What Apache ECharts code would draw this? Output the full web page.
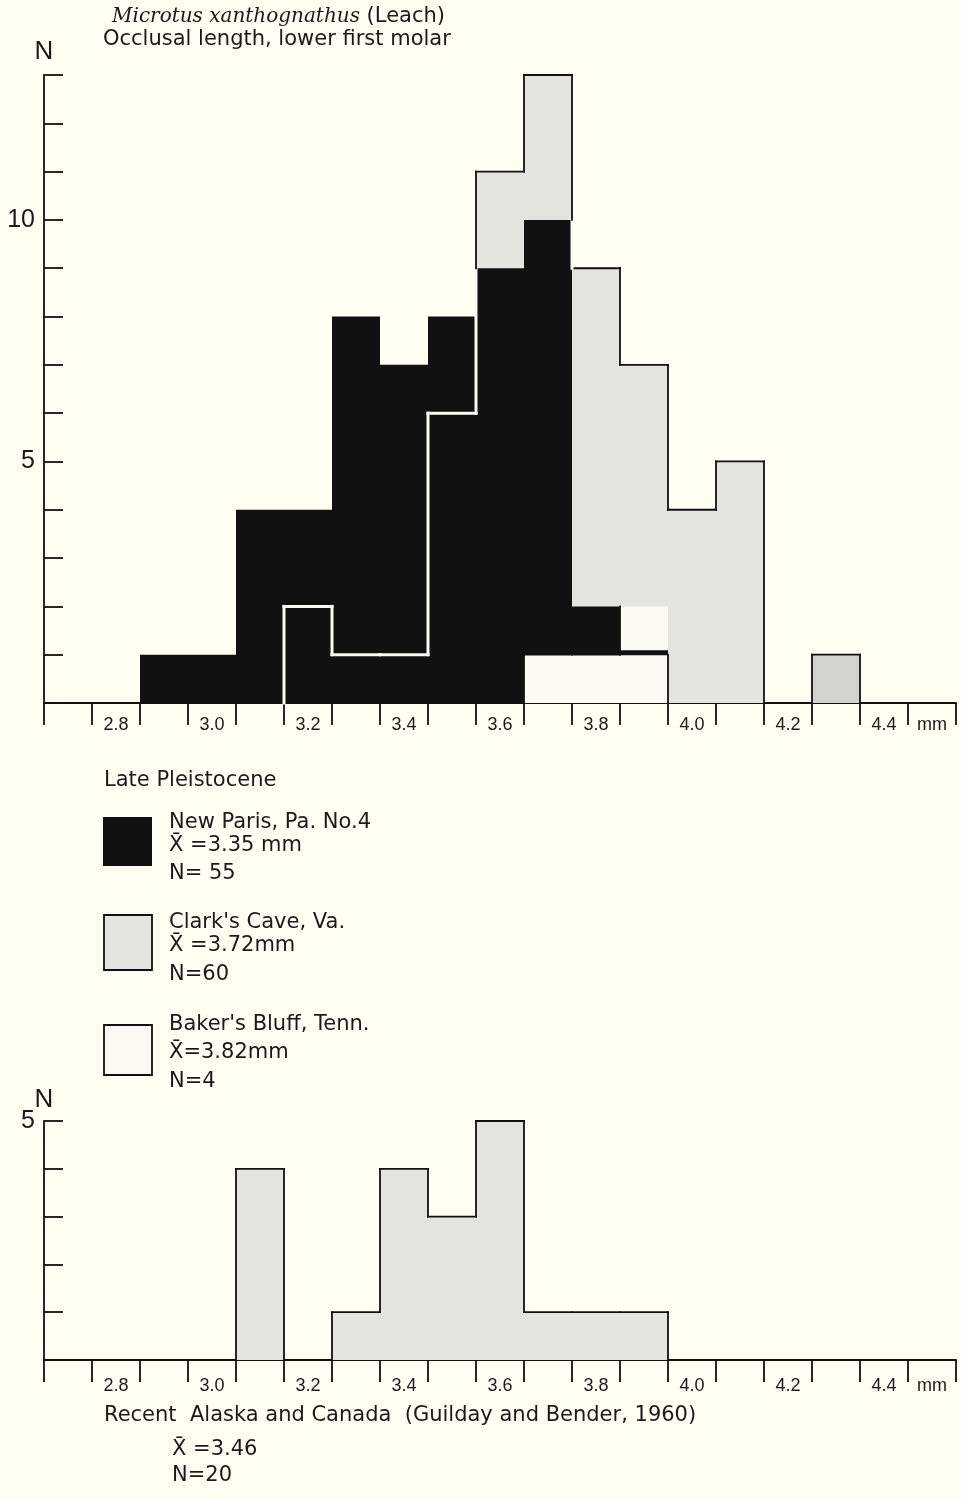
<!DOCTYPE html>
<html><head><meta charset="utf-8">
<script src="https://cdn.jsdelivr.net/npm/echarts@6/dist/echarts.min.js"></script>
<style>html,body{margin:0;padding:0;background:#fefef3;}#c{width:961px;height:1500px;}</style>
</head><body><div id="c"></div>
<script>
// bin centres (mm), 0.1 mm wide
const bins = ['2.7','2.8','2.9','3.0','3.1','3.2','3.3','3.4','3.5','3.6','3.7','3.8','3.9','4.0','4.1','4.2','4.3','4.4','4.5'];
const tickLabels = ['','2.8','','3.0','','3.2','','3.4','','3.6','','3.8','','4.0','','4.2','','4.4','mm'];
// Late Pleistocene samples (counts per bin)
const newParis    = [0,0,1,1,4,4,8,7,8,9,10,2,1,0,0,0,0,0,0]; // N=55
const clarksCave  = [0,0,0,0,0,2,1,1,6,11,13,9,7,4,5,0,1,0,0]; // N=60
const bakersBluff = [0,0,0,0,0,0,0,0,0,0,1,1,2,0,0,0,0,0,0];  // N=4
// Recent Alaska and Canada
const recentAlaska = [0,0,0,0,4,0,1,4,3,5,1,1,1,0,0,0,0,0,0]; // N=20
const topYLabels = [5, 10];
const bottomYLabels = [5];

const BG = '#fefef3', BLACK = '#111111', GREY = '#e4e4df', GREY_DARK = '#d3d3ce', WHITE = '#fbfbf4';
const FONT = '"DejaVu Sans", "Liberation Sans", sans-serif';
const FONT_NUM = '"Liberation Sans", Arial, sans-serif';
const TXT = '#1a1a1a';

function xAxisCfg(gridIndex, margin) {
  return {
    type: 'category', gridIndex, data: bins, boundaryGap: true,
    axisLine: {lineStyle: {color: BLACK, width: 1.8}},
    axisTick: {show: true, interval: 0, length: 22, lineStyle: {color: BLACK, width: 1.8}},
    axisLabel: {interval: 0, margin, fontFamily: FONT_NUM, fontSize: 18, color: TXT,
      formatter: (v, i) => tickLabels[i]},
    splitLine: {show: false}
  };
}
function yAxisCfg(gridIndex, max, labels) {
  return {
    type: 'value', gridIndex, min: 0, max, interval: 1,
    axisLine: {show: true, lineStyle: {color: BLACK, width: 1.8}},
    axisTick: {show: true, inside: true, length: 19, lineStyle: {color: BLACK, width: 1.8}},
    splitLine: {show: false},
    axisLabel: {margin: 9, fontFamily: FONT_NUM, fontSize: 25, color: TXT,
      formatter: v => labels.includes(v) ? String(v) : ''}
  };
}

// step outline of a histogram; parts below `cover` drawn in inColor, parts above `clip` omitted
function stepOutline(api, vals, o) {
  const n = vals.length;
  const half = api.size([1, 0])[0] / 2;
  const pt = (i, v, side) => { const c = api.coord([i, v]); return [c[0] + side * half, c[1]]; };
  const kids = [];
  const seg = (p1, p2, inside) => kids.push({
    type: 'line', shape: {x1: p1[0], y1: p1[1], x2: p2[0], y2: p2[1]},
    style: {stroke: inside ? o.inColor : o.outColor, lineWidth: inside ? o.inWidth : o.outWidth, lineCap: 'square'}
  });
  for (let i = 0; i <= n; i++) {
    const v = i < n ? vals[i] : 0;
    if (i < n && v > 0 && !(o.clip && v > o.clip[i])) {
      seg(pt(i, v, -1), pt(i, v, 1), o.cover && v < o.cover[i]);
    }
    const prev = i > 0 ? vals[i - 1] : 0;
    if (prev !== v) {
      let lo = Math.min(prev, v), hi = Math.max(prev, v);
      const at = (arr) => Math.max(i > 0 ? arr[i - 1] : 0, i < n ? arr[i] : 0);
      if (o.clip) hi = Math.min(hi, at(o.clip));
      if (hi <= lo) continue;
      const B = o.cover ? at(o.cover) : 0;
      const idx = Math.min(i, n - 1), side = i < n ? -1 : 1;
      if (B > lo) seg(pt(idx, lo, side), pt(idx, Math.min(hi, B), side), true);
      if (hi > B) seg(pt(idx, Math.max(lo, B), side), pt(idx, hi, side), false);
    }
  }
  return kids;
}
// top edge of bars that are hidden under a lighter bar
function hiddenTops(api, vals, over) {
  const half = api.size([1, 0])[0] / 2;
  const kids = [];
  vals.forEach((v, i) => {
    if (v > 0 && v < over[i]) {
      const c = api.coord([i, v]);
      kids.push({type: 'line', shape: {x1: c[0] - half, y1: c[1] - 2, x2: c[0] + half, y2: c[1] - 2},
        style: {stroke: BLACK, lineWidth: 5}});
    }
  });
  return kids;
}
function outlineSeries(xi, yi, build) {
  return {type: 'custom', xAxisIndex: xi, yAxisIndex: yi, data: [[0, 0]], z: 6, silent: true, clip: false,
    renderItem: (params, api) => ({type: 'group', children: build(api)})};
}
function barSeries(xi, yi, data, color, z) {
  return {type: 'bar', xAxisIndex: xi, yAxisIndex: yi, data, barWidth: '100%', barGap: '-100%',
    itemStyle: {color}, z, silent: true};
}

const txt = (x, y, text, size, extra) => Object.assign({
  type: 'text', x, y, silent: true,
  style: Object.assign({text, fontFamily: FONT, fontSize: size || 21, fill: TXT,
    textAlign: 'left', textVerticalAlign: 'middle', verticalAlign: 'middle'}, extra || {})
});

const graphics = [
  txt(112, 17, '{it|Microtus xanthognathus} (Leach)', 21, {rich: {it: {fontFamily: '"DejaVu Serif", serif', fontStyle: 'italic', fontSize: 20, fill: TXT}}}),
  txt(103, 40, 'Occlusal length, lower first molar', 21),
  txt(44, 52, 'N', 26, {fontFamily: FONT_NUM, textAlign: 'center', align: 'center'}),
  txt(104, 781, 'Late Pleistocene', 21),
  {type: 'rect', shape: {x: 103, y: 817, width: 49, height: 49}, style: {fill: BLACK}, silent: true},
  txt(169, 823, 'New Paris, Pa. No.4', 21),
  txt(169, 846, 'X\u0304 =3.35 mm', 21),
  txt(169, 874, 'N= 55', 21),
  {type: 'rect', shape: {x: 104, y: 915, width: 48, height: 55}, style: {fill: GREY, stroke: BLACK, lineWidth: 1.8}, silent: true},
  txt(169, 923, "Clark's Cave, Va.", 21),
  txt(169, 946, 'X\u0304 =3.72mm', 21),
  txt(169, 975, 'N=60', 21),
  {type: 'rect', shape: {x: 104, y: 1025, width: 48, height: 50}, style: {fill: WHITE, stroke: BLACK, lineWidth: 1.8}, silent: true},
  txt(169, 1025, "Baker's Bluff, Tenn.", 21),
  txt(169, 1053, 'X\u0304=3.82mm', 21),
  txt(169, 1082, 'N=4', 21),
  txt(44, 1100, 'N', 26, {fontFamily: FONT_NUM, textAlign: 'center', align: 'center'}),
  txt(104, 1416, 'Recent  Alaska and Canada  (Guilday and Bender, 1960)', 21),
  txt(172, 1450, 'X\u0304 =3.46', 21),
  txt(172, 1476, 'N=20', 21)
];

const chart = echarts.init(document.getElementById('c'), null, {renderer: 'canvas'});
chart.setOption({
  backgroundColor: BG,
  animation: false,
  grid: [
    {left: 44, top: 75, width: 912, height: 628},
    {left: 44, top: 1121, width: 912, height: 239}
  ],
  xAxis: [xAxisCfg(0, 13), xAxisCfg(1, 17)],
  yAxis: [yAxisCfg(0, 13, topYLabels), yAxisCfg(1, 5, bottomYLabels)],
  series: [
    barSeries(0, 0, clarksCave, p => bins[p.dataIndex] === '4.3' ? GREY_DARK : GREY, 1),
    barSeries(0, 0, newParis, BLACK, 2),
    barSeries(0, 0, bakersBluff, WHITE, 3),
    outlineSeries(0, 0, api => [].concat(
      stepOutline(api, clarksCave, {cover: newParis, inColor: WHITE, inWidth: 3, outColor: BLACK, outWidth: 1.8}),
      stepOutline(api, bakersBluff, {clip: newParis, inColor: BLACK, inWidth: 1.8, outColor: BLACK, outWidth: 1.8}),
      hiddenTops(api, newParis, bakersBluff)
    )),
    barSeries(1, 1, recentAlaska, GREY, 1),
    outlineSeries(1, 1, api => stepOutline(api, recentAlaska, {inColor: BLACK, inWidth: 1.8, outColor: BLACK, outWidth: 1.8}))
  ],
  graphic: graphics
});
</script></body></html>
